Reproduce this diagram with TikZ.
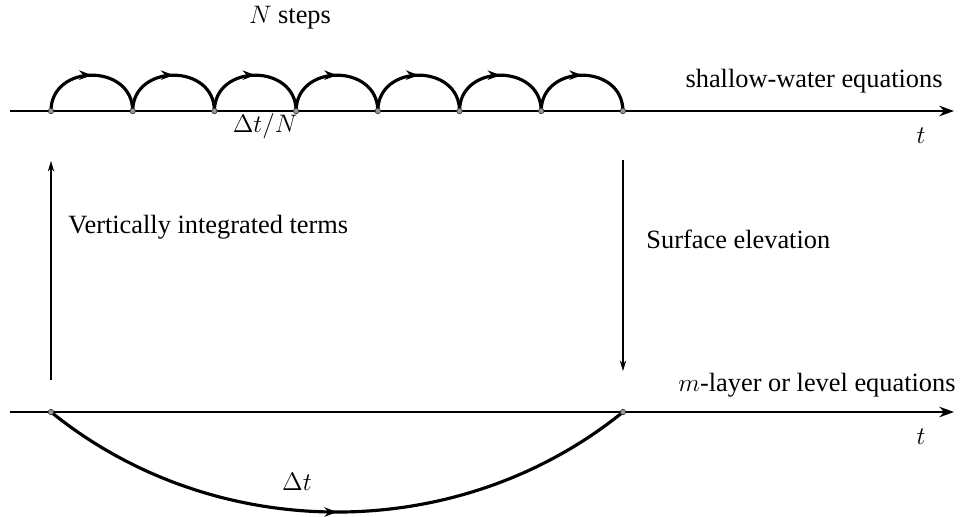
\documentclass[tikz,border=0pt]{standalone}
\usepackage{fontspec}
\setmainfont{Liberation Serif}
\usepackage{tikz}
\usetikzlibrary{arrows.meta,decorations.markings}
\tikzset{
    timeaxis/.style={
        line width=1pt,
        black,
        -{Stealth[length=7pt, width=5pt]}
    },
    hoparc/.style={
        line width=1.5pt,
        black,
        decoration={markings, mark=at position 0.5 with {\arrow{Stealth[length=6pt, width=4.5pt]}}},
        postaction=decorate
    },
    coupling/.style={
        line width=0.5pt,
        black,
        -{Stealth[length=5pt, width=3pt]}
    },
    stepdot/.style={
        circle,
        draw=black!80,
        fill=black!40,
        line width=0.3pt,
        inner sep=0pt,
        minimum size=2.6pt
    }
}

\begin{document}
\begin{tikzpicture}[x=0.0166667cm, y=-0.0166667cm, every node/.style={font=\fontsize{12.5}{15}\selectfont}]
	\useasboundingbox (0,0) rectangle (962,516);

	% time axes
	\coordinate (topL) at (10,111);
	\coordinate (topR) at (954,111);
	\coordinate (botL) at (10,412);
	\coordinate (botR) at (954,412);
	\draw[timeaxis] (topL) -- (topR);
	\draw[timeaxis] (botL) -- (botR);

	% N short steps
	\foreach \i in {0,...,7}
		\coordinate (s\i) at ({51+81.7*\i},111);
	\foreach \i/\j in {0/1,1/2,2/3,3/4,4/5,5/6,6/7}
		\draw[hoparc] (s\i) to[out=90, in=90, looseness=1.5] (s\j);

	% one long step
	\coordinate (b0) at (51,412);
	\coordinate (b1) at (623,412);
	\draw[hoparc] (b0) to[out=-39, in=-141, looseness=0.95] (b1);

	\foreach \p in {s0,s1,s2,s3,s4,s5,s6,s7,b0,b1}
		\node[stepdot] at (\p) {};

	% coupling between the two systems
	\coordinate (upS) at (51,380);
	\coordinate (upE) at (51,161);
	\coordinate (dnS) at (623,160);
	\coordinate (dnE) at (623,371);
	\draw[coupling] (upS) -- (upE);
	\draw[coupling] (dnS) -- (dnE);

	\node (nsteps) at (290,18) {$N$ steps};
	\node (dtN) at (265,126) {$\Delta t/N$};
	\node (dt) at (297,482) {$\Delta t$};
	\node[anchor=east] (swe) at (950,81) {shallow-water equations};
	\node[anchor=east] (mle) at (963,385) {$m$-layer or level equations};
	\node (t1) at (921,136) {$t$};
	\node (t2) at (921,437) {$t$};
	\node[anchor=west] (vit) at (61,227) {Vertically integrated terms};
	\node[anchor=west] (sfe) at (639,239) {Surface elevation};
\end{tikzpicture}
\end{document}
